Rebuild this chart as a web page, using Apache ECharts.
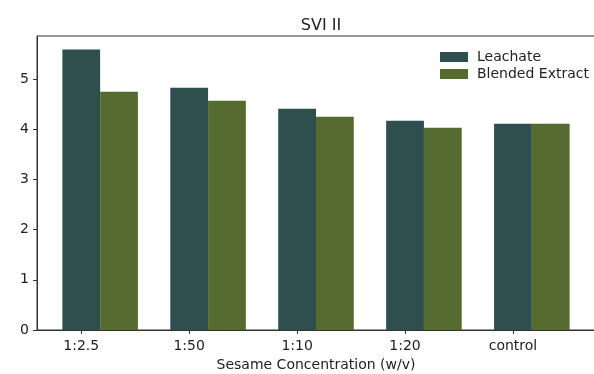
<!DOCTYPE html>
<html>
<head>
<meta charset="utf-8">
<script src="https://cdn.jsdelivr.net/npm/echarts@6/dist/echarts.min.js"></script>
<style>
html,body{margin:0;padding:0;background:#fff;}
#main{width:594px;height:374px;}
</style>
</head>
<body>
<div id="main"></div>
<script>
const categories = ['1:2.5', '1:50', '1:10', '1:20', 'control'];
const leachate = [5.59, 4.83, 4.41, 4.17, 4.11];
const blended = [4.75, 4.57, 4.25, 4.03, 4.11];
const yTicks = [0, 1, 2, 3, 4, 5];

const barOffset = 0.35;
const xMin = -0.41, xMax = 4.76;
const gridLeft = 37, gridRight = -1;
const plotW = 594 - gridLeft - gridRight;
const barPx = plotW / (xMax - xMin) * barOffset;

const chart = echarts.init(document.getElementById('main'));
const font = 'DejaVu Sans';
chart.setOption({
  animation: false,
  textStyle: { fontFamily: font },
  title: {
    text: 'SVI II', left: 316, top: 13, textAlign: 'center',
    textStyle: { fontFamily: font, fontSize: 16, fontWeight: 'normal', color: '#222' }
  },
  legend: {
    orient: 'vertical', left: 435, top: 45, itemWidth: 28, itemHeight: 10, itemGap: 3,
    icon: 'rect',
    textStyle: { fontFamily: font, fontSize: 14, color: '#222', padding: [0, 0, 0, 4] },
    data: ['Leachate', 'Blended Extract']
  },
  grid: {
    left: gridLeft, right: gridRight, top: 36, bottom: 44,
    outerBoundsMode: 'none', containLabel: false,
    show: true, borderColor: '#333', borderWidth: 1, backgroundColor: 'transparent'
  },
  xAxis: {
    type: 'value', min: xMin, max: xMax,
    splitLine: { show: false },
    axisLine: { onZero: false, lineStyle: { color: '#333' } },
    axisTick: { show: true, length: 4, lineStyle: { color: '#333' }, customValues: [0, 1, 2, 3, 4] },
    axisLabel: {
      customValues: [0, 1, 2, 3, 4], color: '#222', fontSize: 14, fontFamily: font, margin: 9,
      formatter: v => categories[Math.round(v)] ?? ''
    },
    name: 'Sesame Concentration (w/v)', nameLocation: 'middle', nameGap: 28,
    nameTextStyle: { fontFamily: font, fontSize: 14, color: '#222' }
  },
  yAxis: {
    type: 'value', min: 0, max: 5.86,
    splitLine: { show: false },
    axisLine: { show: true, onZero: false, lineStyle: { color: '#333' } },
    axisTick: { show: true, length: 4, lineStyle: { color: '#333' }, customValues: yTicks },
    axisLabel: { customValues: yTicks, color: '#222', fontSize: 14, fontFamily: font, margin: 8 }
  },
  series: [
    {
      name: 'Leachate', type: 'bar', barWidth: barPx, barGap: '-100%',
      itemStyle: { color: '#2F4F4F' },
      data: leachate.map((v, i) => [i, v])
    },
    {
      name: 'Blended Extract', type: 'bar', barWidth: barPx, barGap: '-100%',
      itemStyle: { color: '#556B2F' },
      data: blended.map((v, i) => [i + barOffset, v])
    }
  ]
});
</script>
</body>
</html>
